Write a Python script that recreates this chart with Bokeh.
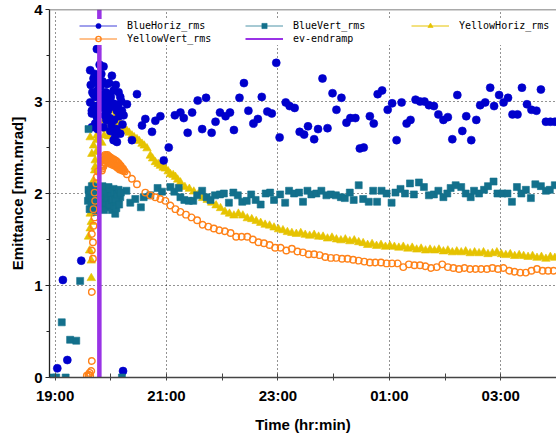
from bokeh.plotting import figure
from bokeh.models import Range1d, FixedTicker, Legend, LegendItem, Span
from bokeh.embed import file_html
from bokeh.resources import INLINE

NAN = float("nan")

# ---------------- data (time in hours; values past 24 are after midnight) ----------------
blue_t = [19.04, 19.14, 19.22, 19.47, 19.63, 19.63, 19.66, 19.66, 19.66, 19.69, 19.69, 19.72,
          19.72, 19.74, 19.75, 19.75, 19.76, 19.77, 19.78, 19.80, 19.81, 19.84, 19.87, 19.87,
          19.89, 19.90, 19.93, 19.96, 19.99, 19.99, 20.02, 20.05, 20.05, 20.08, 20.08, 20.11,
          20.11, 20.14, 20.17, 20.17, 20.20, 20.22, 20.23, 20.29, 20.38, 20.47, 20.56, 20.62,
          20.74, 20.80, 20.89, 20.95, 21.04, 21.15,
          19.64, 19.67, 19.70, 19.71, 19.73, 19.76, 19.79, 19.82, 19.83, 19.85, 19.86, 19.88,
          19.91, 19.92, 19.94, 19.95, 19.97, 19.98, 20.00, 20.01, 20.03, 20.06, 20.09, 20.10,
          20.13, 20.15, 20.19, 20.21,
          21.25, 21.31, 21.38, 21.46, 21.56, 21.64, 21.71, 21.81, 21.88, 21.96, 22.06, 22.14,
          22.21, 22.31, 22.39, 22.47, 22.56, 22.64, 22.71, 22.81, 22.89, 22.97, 23.03, 23.14,
          23.21, 23.30, 23.39, 23.47, 23.54, 23.65, 23.72, 23.80, 23.89, 23.98, 24.05, 24.14,
          24.23, 24.30, 24.39, 24.47, 24.54, 24.65, 24.72, 24.79, 24.87, 24.97, 25.05, 25.13,
          25.22, 25.31, 25.38, 25.47, 25.55, 25.63, 25.71, 25.80, 25.88, 25.97, 26.05, 26.13,
          26.22, 26.31, 26.38, 26.47, 26.56, 26.63, 26.72, 26.81, 26.88, 26.97, 27.05, 27.13,
          27.21, 27.30, 27.38, 27.47, 27.55, 27.64, 27.72, 27.81, 27.89, 27.97]
blue_v = [0.10, 1.06, 0.19, 1.27, 3.34, 2.99, 2.90, 2.87, 2.72, 3.25, 3.08, 2.76,
          3.05, 3.20, 2.83, 3.57, 2.70, 3.28, 2.96, 3.40, 3.16, 3.07, 3.38, 2.72,
          2.85, 2.96, 3.19, 3.08, 2.94, 2.68, 3.28, 3.12, 2.58, 2.97, 2.63, 2.90,
          2.56, 3.10, 3.05, 2.65, 2.90, 0.07, 2.85, 2.97, 2.58, 3.08, 2.74, 2.81,
          2.67, 2.79, 2.84, 2.36, 2.50, 2.85,
          3.18, 3.10, 2.95, 3.30, 2.88, 3.12, 3.24, 2.98, 3.30, 3.22, 2.93, 3.02,
          3.10, 2.80, 3.00, 2.90, 3.20, 2.82, 3.05, 2.75, 2.98, 2.80, 3.18, 2.70,
          2.95, 2.84, 3.00, 2.75,
          2.88, 2.82, 2.66, 2.88, 3.01, 2.70, 3.04, 2.66, 2.78, 2.88, 2.84, 2.88,
          2.69, 3.04, 3.20, 2.90, 2.76, 2.81, 3.05, 2.89, 2.87, 3.42, 2.61, 2.99,
          2.95, 2.93, 2.67, 2.64, 2.73, 2.59, 2.70, 3.25, 2.71, 3.09, 2.91, 3.04,
          2.77, 2.82, 2.82, 2.49, 2.50, 2.84, 2.76, 3.08, 3.12, 2.91, 2.98, 2.58,
          2.99, 2.76, 2.80, 3.02, 3.00, 3.00, 2.96, 2.95, 2.86, 2.80, 2.83, 2.59,
          3.07, 2.68, 2.84, 2.58, 2.80, 2.96, 2.99, 3.15, 2.95, 3.07, 2.99, 3.04,
          2.86, 2.86, 3.15, 2.97, 2.91, 2.90, 3.13, 2.78, 2.78, 2.78]

teal_t = [18.96, 19.02, 19.12, 19.19, 19.27, 19.38, 19.45, 19.59, 19.60, 19.60, 19.62, 19.63,
          19.66, 19.69, 19.72, 19.74, 19.76, 19.78, 19.80, 19.83, 19.87, 19.87, 19.90, 19.92,
          19.93, 19.96, 19.99, 20.00, 20.02, 20.04, 20.05, 20.08, 20.08, 20.11, 20.13, 20.17,
          20.20, 20.28, 20.35, 20.44, 20.54, 20.59, 20.71, 20.84, 20.92, 21.07, 21.14, 21.22,
          19.61, 19.64, 19.65, 19.67, 19.70, 19.71, 19.73, 19.75, 19.77, 19.79, 19.81, 19.82,
          19.84, 19.85, 19.86, 19.88, 19.89, 19.91, 19.94, 19.95, 19.97, 19.98, 20.01, 20.03,
          20.06, 20.07, 20.09, 20.10, 20.12, 20.14, 20.15, 20.18,
          21.25, 21.32, 21.40, 21.48, 21.55, 21.64, 21.72, 21.79, 21.87, 21.96, 22.03, 22.12,
          22.20, 22.28, 22.36, 22.44, 22.52, 22.60, 22.69, 22.78, 22.86, 22.93, 23.04, 23.13,
          23.20, 23.29, 23.38, 23.45, 23.53, 23.60, 23.69, 23.78, 23.87, 23.95, 24.04, 24.13,
          24.20, 24.29, 24.36, 24.45, 24.53, 24.63, 24.71, 24.78, 24.86, 24.95, 25.04, 25.11,
          25.20, 25.28, 25.37, 25.44, 25.53, 25.62, 25.71, 25.80, 25.88, 25.97, 26.04, 26.10,
          26.19, 26.29, 26.37, 26.46, 26.52, 26.61, 26.70, 26.77, 26.87, 26.94, 27.03, 27.12,
          27.20, 27.29, 27.37, 27.45, 27.54, 27.62, 27.72, 27.81, 27.88, 27.97]
teal_v = [0.00, 0.00, 0.60, 0.00, 0.41, 0.40, 1.05, 1.92, 2.04, 2.70, 1.83, 1.96,
          2.08, 1.87, 2.07, 1.80, 1.95, 2.01, 1.90, 1.99, 2.05, 1.89, 1.96, 2.02,
          1.85, 2.07, 1.94, 1.90, 1.82, 1.88, 2.05, 1.98, 1.78, 2.03, 1.92, 1.96,
          0.00, 2.03, 1.90, 1.94, 1.85, 1.96, 1.98, 2.06, 2.02, 2.07, 2.02, 2.06,
          1.98, 2.03, 1.90, 1.95, 2.00, 1.92, 1.97, 2.05, 1.86, 2.06, 1.97, 1.84,
          1.93, 2.08, 1.96, 1.82, 2.01, 1.90, 1.95, 2.00, 1.88, 2.02, 1.97, 1.93,
          1.86, 2.00, 1.94, 1.84, 1.99, 2.04, 1.88, 2.01,
          1.96, 1.93, 1.92, 1.92, 1.98, 2.03, 1.96, 1.93, 1.98, 1.99, 2.00, 1.90,
          2.01, 1.98, 1.91, 1.92, 1.99, 1.93, 1.88, 2.00, 2.01, 1.93, 1.99, 1.90,
          2.03, 2.00, 2.01, 1.91, 2.03, 1.99, 2.00, 2.03, 1.98, 1.99, 1.98, 1.96,
          1.95, 2.01, 1.93, 2.09, 1.94, 1.91, 2.03, 1.91, 2.03, 2.00, 1.90, 2.01,
          2.05, 2.00, 2.11, 1.99, 2.12, 2.07, 1.98, 1.99, 2.03, 1.96, 2.00, 2.06,
          2.09, 2.07, 2.00, 1.96, 2.03, 2.00, 2.04, 2.08, 2.13, 2.00, 2.00, 2.00,
          1.91, 2.07, 2.00, 2.04, 1.95, 2.10, 2.08, 2.03, 2.04, 2.09]

yellow_t = [19.60, 19.62, 19.63, 19.63, 19.63, 19.65, 19.65, 19.65, 19.66, 19.66, 19.66, 19.68,
            19.68, 19.69, 19.69, 19.71, 19.72, 19.72, 19.74, 19.75, 19.75, 19.81, 19.84, 19.87,
            19.88, 19.92, 19.93, 19.96, 19.98, 20.00, 20.02, 20.04, 20.06, 20.08, 20.10, 20.12,
            20.14, 20.17, 20.20, 20.24, 20.29, 20.33, 20.38, 20.42, 20.47, 20.51, 20.56, 20.60,
            20.65, 20.71, 20.75, 20.80, 20.85, 20.89, 20.94, 20.98, 21.03, 21.07, 21.12, 21.16,
            21.20,
            21.25, 21.33, 21.41, 21.49, 21.57, 21.65, 21.73, 21.81, 21.89, 21.97, 22.05, 22.13,
            22.21, 22.29, 22.37, 22.45, 22.53, 22.61, 22.69, 22.77, 22.85, 22.93, 23.01, 23.09,
            23.17, 23.25, 23.33, 23.41, 23.49, 23.57, 23.65, 23.73, 23.81, 23.89, 23.97, 24.05,
            24.13, 24.21, 24.29, 24.37, 24.45, 24.53, 24.61, 24.69, 24.77, 24.85, 24.93, 25.01,
            25.09, 25.17, 25.25, 25.33, 25.41, 25.49, 25.57, 25.65, 25.73, 25.81, 25.89, 25.97,
            26.05, 26.13, 26.21, 26.29, 26.37, 26.45, 26.53, 26.61, 26.69, 26.77, 26.85, 26.93,
            27.01, 27.09, 27.17, 27.25, 27.33, 27.41, 27.49, 27.57, 27.65, 27.73, 27.81, 27.89,
            27.97]
yellow_v = [1.53, 1.38, 1.62, 1.78, 2.61, 1.08, 1.27, 1.69, 1.92, 2.00, 2.43, 1.82,
            2.03, 2.14, 2.52, 2.25, 2.29, 2.36, 2.45, 2.58, 2.63, 2.72, 2.55, 2.79,
            2.63, 2.70, 2.87, 2.62, 2.78, 2.68, 2.90, 2.80, 2.72, 2.85, 2.66, 2.76,
            2.79, 2.70, 2.74, 2.71, 2.68, 2.66, 2.63, 2.61, 2.59, 2.57, 2.54, 2.52,
            2.49, 2.41, 2.38, 2.34, 2.32, 2.30, 2.28, 2.27, 2.24, 2.21, 2.20, 2.18,
            2.15,
            2.12, 2.07, 2.05, 2.02, 1.99, 1.95, 1.93, 1.90, 1.87, 1.84, 1.80, 1.78,
            1.76, 1.78, 1.76, 1.73, 1.72, 1.70, 1.68, 1.66, 1.65, 1.63, 1.61, 1.60,
            1.58, 1.57, 1.56, 1.57, 1.55, 1.54, 1.55, 1.53, 1.53, 1.51, 1.52, 1.50,
            1.49, 1.50, 1.48, 1.49, 1.47, 1.46, 1.44, 1.45, 1.43, 1.44, 1.42, 1.43,
            1.42, 1.41, 1.42, 1.40, 1.41, 1.39, 1.40, 1.38, 1.39, 1.38, 1.39, 1.37,
            1.38, 1.36, 1.37, 1.36, 1.37, 1.35, 1.36, 1.35, 1.36, 1.34, 1.35, 1.36,
            1.34, 1.33, 1.34, 1.32, 1.33, 1.32, 1.31, 1.32, 1.30, 1.31, 1.29, 1.31,
            1.30]

orange_t = [19.57, 19.60, 19.62, 19.63, 19.65, 19.66, 19.66, 19.68, 19.66, 19.68, 19.66, 19.69,
            19.71, 19.69, 19.72, 19.71, 19.74, 19.75, 19.77, 19.84, 19.85, 19.86, 19.88, 19.90,
            19.92, 19.94, 19.96, 19.98, 20.00, 20.02, 20.04, 20.06, 20.08, 20.10, 20.12, 20.14,
            20.16, 20.18, 20.20, 20.22, 19.87, 19.90, 19.93, 19.96, 20.00, 20.04, 20.08, 20.12,
            20.16, 20.29, 20.38, 20.47, 20.62, 20.71, 20.80, 20.89, 20.98, 21.07, 21.16,
            19.85, 19.86, 19.87, 19.89, 19.91, 19.93, 19.95, 19.97, 19.99, 20.01, 20.03, 20.05,
            20.07, 20.09, 20.11, 20.13, 20.15, 20.17, 20.19, 20.21, 20.23, 20.25,
            21.25, 21.35, 21.45, 21.55, 21.65, 21.75, 21.85, 21.95, 22.05, 22.15, 22.25, 22.35,
            22.45, 22.55, 22.65, 22.75, 22.85, 22.95, 23.05, 23.15, 23.25, 23.35, 23.45, 23.55,
            23.65, 23.75, 23.85, 23.95, 24.05, 24.15, 24.25, 24.35, 24.45, 24.55, 24.65, 24.75,
            24.85, 24.95, 25.05, 25.15, 25.25, 25.35, 25.45, 25.55, 25.65, 25.75, 25.85, 25.95,
            26.05, 26.15, 26.25, 26.35, 26.45, 26.55, 26.65, 26.75, 26.85, 26.95, 27.05, 27.15,
            27.25, 27.35, 27.45, 27.55, 27.65, 27.75, 27.85, 27.95]
orange_v = [0.02, 0.03, 0.05, 0.02, 0.07, 0.18, 0.93, 1.29, 1.38, 1.47, 1.56, 1.65,
            1.74, 1.83, 1.92, 2.01, 2.11, 2.18, 2.24, 2.25, 2.31, 2.36, 2.40, 2.42,
            2.41, 2.42, 2.40, 2.40, 2.39, 2.38, 2.37, 2.37, 2.36, 2.35, 2.34, 2.33,
            2.31, 2.30, 2.28, 2.27, 2.30, 2.33, 2.36, 2.34, 2.32, 2.31, 2.30, 2.28,
            2.26, 2.21, 2.16, 2.10, 2.01, 1.98, 1.96, 1.94, 1.92, 1.87, 1.83,
            2.27, 2.29, 2.34, 2.37, 2.38, 2.39, 2.37, 2.36, 2.35, 2.34, 2.33, 2.33,
            2.32, 2.31, 2.30, 2.30, 2.28, 2.28, 2.26, 2.25, 2.25, 2.24,
            1.80, 1.77, 1.74, 1.71, 1.66, 1.64, 1.62, 1.60, 1.59, 1.57, 1.53, 1.53,
            1.53, 1.50, 1.47, 1.46, 1.44, 1.41, 1.41, 1.38, 1.40, 1.37, 1.36, 1.34,
            1.34, 1.33, 1.31, 1.30, 1.30, 1.29, 1.29, 1.28, 1.27, 1.26, 1.25, 1.25,
            1.25, 1.24, 1.24, 1.24, 1.20, 1.23, 1.22, 1.22, 1.21, 1.19, 1.20, 1.23,
            1.20, 1.19, 1.18, 1.19, 1.18, 1.18, 1.18, 1.18, 1.19, 1.18, 1.19, 1.16,
            1.15, 1.14, 1.14, 1.16, 1.18, 1.16, 1.16, 1.16]

endramp_t = [19.795, 19.795]
endramp_v = [0.0, 4.0]

x_ticks = [19, 21, 23, 25, 27]
x_tick_labels = ["19:00", "21:00", "23:00", "01:00", "03:00"]
x_minor_ticks = [20, 22, 24, 26, 28]
y_ticks = [0, 1, 2, 3, 4]
y_minor_ticks = [0.5, 1.5, 2.5, 3.5]

series_names = ["BlueHoriz_rms", "BlueVert_rms", "YellowHoriz_rms", "YellowVert_rms", "ev-endramp"]

X_START, X_END = 18.9, 28.0
Y_START, Y_END = 0.0, 4.0

BLUE = "#0000cc"
TEAL = "#13708c"
YELLOW = "#e6c300"
ORANGE = "#ff8219"
PURPLE = "#9933e6"

W, H = 556, 438
B_LEFT, B_TOP, B_BOTTOM = 49, 9, 61

p = figure(width=W, height=H, output_backend="svg", toolbar_location=None,
           x_range=Range1d(X_START, X_END), y_range=Range1d(Y_START, Y_END),
           min_border_left=B_LEFT, min_border_right=0, min_border_top=B_TOP,
           min_border_bottom=B_BOTTOM)
p.outline_line_color = None
p.background_fill_color = "white"
p.border_fill_color = "white"

# grid
for g in (p.xgrid, p.ygrid):
    g.grid_line_color = "black"
    g.grid_line_dash = "1 3"
    g.grid_line_width = 1
    g.grid_line_alpha = 0.85

# axes
xa = p.xaxis[0]
xa.ticker = FixedTicker(ticks=x_ticks, minor_ticks=x_minor_ticks)
xa.major_label_overrides = {t: l for t, l in zip(x_ticks, x_tick_labels)}
xa.axis_label = "Time (hr:min)"
xa.axis_label_text_font = "Liberation Sans"
xa.axis_label_text_font_style = "bold"
xa.axis_label_text_font_size = "15px"
xa.axis_label_text_color = "black"
xa.axis_label_standoff = 9
xa.major_label_text_font = "Liberation Sans"
xa.major_label_text_font_style = "bold"
xa.major_label_text_font_size = "15px"
xa.major_label_text_color = "black"
xa.major_label_standoff = 6
xa.axis_line_color = "#444444"
xa.axis_line_width = 1.5
xa.major_tick_line_color = "#444444"
xa.minor_tick_line_color = "#444444"
xa.major_tick_in = 4
xa.major_tick_out = 3
xa.minor_tick_in = 4
xa.minor_tick_out = 3

ya = p.yaxis[0]
ya.ticker = FixedTicker(ticks=y_ticks, minor_ticks=y_minor_ticks)
ya.axis_label = "Emittance [mm.mrad]"
ya.axis_label_text_font = "Liberation Sans"
ya.axis_label_text_font_style = "bold"
ya.axis_label_text_font_size = "15px"
ya.axis_label_text_color = "black"
ya.axis_label_standoff = 5
ya.major_label_text_font = "Liberation Sans"
ya.major_label_text_font_style = "bold"
ya.major_label_text_font_size = "15px"
ya.major_label_text_color = "black"
ya.major_label_standoff = 3
ya.axis_line_color = "#222222"
ya.axis_line_width = 1.3
ya.major_tick_line_color = "#222222"
ya.minor_tick_line_color = "#222222"
ya.major_tick_in = 0
ya.major_tick_out = 4
ya.minor_tick_in = 0
ya.minor_tick_out = 3

# top frame line
p.add_layout(Span(location=Y_END, dimension="width", line_color="#555555", line_width=1.5))

# data
r_yellow = p.scatter(yellow_t, yellow_v, marker="triangle", size=8.5,
                     fill_color=YELLOW, line_color=YELLOW, line_width=0.6)
r_blue = p.scatter(blue_t, blue_v, marker="circle", size=8,
                   fill_color=BLUE, line_color=BLUE, line_width=0.6)
r_teal = p.scatter(teal_t, teal_v, marker="square", size=7,
                   fill_color=TEAL, line_color=TEAL, line_width=0.6)
r_orange = p.scatter(orange_t, orange_v, marker="circle", size=6.5,
                     fill_color=None, line_color=ORANGE, line_width=1.4)
r_ramp = p.line(endramp_t, endramp_v, line_color=PURPLE, line_width=4.5)

# legend glyph lines (a single NaN point: nothing drawn in the plot)
l_blue = p.line([NAN], [NAN], line_color=BLUE, line_width=1, line_alpha=0.75)
l_teal = p.line([NAN], [NAN], line_color=TEAL, line_width=1, line_alpha=0.75)
l_yellow = p.line([NAN], [NAN], line_color=YELLOW, line_width=1)
l_orange = p.line([NAN], [NAN], line_color=ORANGE, line_width=1)
l_ramp = p.line([NAN], [NAN], line_color=PURPLE, line_width=2)

PAD = 7
ROW = 13
leg_h = 2 * PAD + 2 * ROW
frame_h = H - B_TOP - B_BOTTOM
leg_top_in_frame = -4.5
legend = Legend(
    items=[
        LegendItem(label=series_names[0], renderers=[l_blue, r_blue]),
        LegendItem(label=series_names[1], renderers=[l_teal, r_teal]),
        LegendItem(label=series_names[2], renderers=[l_yellow, r_yellow]),
        LegendItem(label=series_names[3], renderers=[l_orange, r_orange]),
        LegendItem(label=series_names[4], renderers=[l_ramp]),
    ],
    location=(30, frame_h - leg_top_in_frame - leg_h),
    orientation="horizontal", ncols=3,
    label_text_font="DejaVu Sans Mono", label_text_font_size="10px",
    label_text_color="black",
    label_standoff=10, glyph_width=38, glyph_height=ROW, label_height=ROW,
    label_width=118, spacing=-2, padding=PAD, margin=0,
    border_line_color=None, background_fill_color="white", background_fill_alpha=1.0,
)
p.add_layout(legend)

open("out.html", "w").write(file_html(p, INLINE))
